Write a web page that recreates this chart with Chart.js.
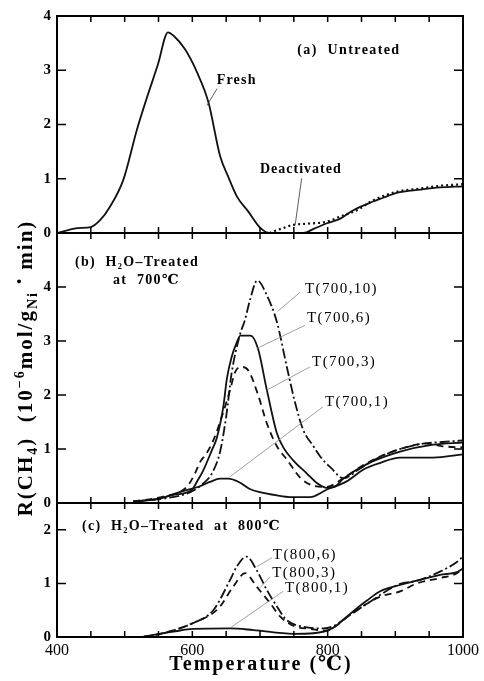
<!DOCTYPE html>
<html><head><meta charset="utf-8">
<script src="https://cdn.jsdelivr.net/npm/chart.js@4.4.1/dist/chart.umd.min.js"></script>
<style>
html,body{margin:0;padding:0;background:#fff;}
.wrap{position:relative;width:484px;height:681px;background:#fff;}
canvas{position:absolute;left:0;top:0;}
</style></head>
<body>
<div class="wrap">
<canvas id="pa" width="484" height="681"></canvas>
<canvas id="pb" width="484" height="681"></canvas>
<canvas id="pc" width="484" height="681"></canvas>
</div>
<script>
// ---------- DATA ----------
const xTickLabelValues = [400, 600, 800, 1000];
const xTickLabels = ['400', '600', '800', '1000'];
const xTickMarks = [450, 500, 550, 600, 650, 700, 750, 800, 850, 900, 950];
const yTicksA = [0, 1, 2, 3, 4];
const yTicksB = [0, 1, 2, 3, 4];
const yTicksC = [0, 1, 2];

// (a) Untreated
const freshT = [400, 415, 430, 450, 464, 478, 498, 518, 533, 549, 564, 572, 589, 607, 624, 641, 653, 666, 683, 700, 714, 764, 780, 799, 818, 838, 867, 882, 902, 937, 966, 1000];
const freshR = [0, 0.05, 0.09, 0.11, 0.24, 0.48, 0.98, 1.9, 2.5, 3.1, 3.7, 3.64, 3.39, 2.96, 2.4, 1.42, 1.04, 0.67, 0.39, 0.1, 0, 0, 0.08, 0.18, 0.26, 0.42, 0.58, 0.65, 0.74, 0.8, 0.84, 0.86];
const deactT = [714, 734, 749, 769, 799, 818, 843, 867, 902, 937, 966, 1000];
const deactR = [0, 0.09, 0.15, 0.17, 0.21, 0.3, 0.42, 0.6, 0.76, 0.82, 0.87, 0.9];

// (b) H2O-treated at 700 C
const t700_1T = [513, 547, 586, 611, 626, 641, 653, 670, 685, 700, 725, 744, 774, 799, 828, 853, 877, 907, 932, 956, 1000];
const t700_1R = [0.03, 0.07, 0.22, 0.31, 0.39, 0.45, 0.45, 0.38, 0.26, 0.2, 0.14, 0.11, 0.11, 0.25, 0.4, 0.62, 0.74, 0.84, 0.84, 0.84, 0.9];
const t700_3T = [513, 557, 592, 604, 611, 621, 631, 641, 656, 663, 673, 683, 698, 710, 725, 740, 760, 779, 799, 823, 858, 907, 946, 970, 1000];
const t700_3R = [0.03, 0.12, 0.3, 0.55, 0.75, 0.92, 1.16, 1.5, 2.1, 2.42, 2.52, 2.45, 1.97, 1.48, 1.05, 0.8, 0.46, 0.32, 0.3, 0.46, 0.74, 1.0, 1.1, 1.05, 1.03];
const t700_6T = [513, 547, 572, 599, 608, 616, 629, 636, 646, 651, 658, 665, 671, 686, 697, 710, 725, 734, 749, 769, 784, 799, 810, 823, 858, 907, 956, 1000];
const t700_6R = [0.03, 0.07, 0.15, 0.24, 0.42, 0.6, 0.98, 1.2, 1.8, 2.3, 2.7, 2.95, 3.1, 3.1, 2.86, 2.1, 1.29, 1.04, 0.79, 0.55, 0.37, 0.28, 0.3, 0.45, 0.72, 0.95, 1.08, 1.12];
const t700_10T = [513, 562, 597, 615, 629, 641, 650, 658, 670, 678, 685, 696, 710, 725, 740, 752, 764, 779, 789, 805, 823, 848, 872, 907, 941, 970, 1000];
const t700_10R = [0.03, 0.09, 0.2, 0.35, 0.55, 0.95, 1.6, 2.4, 3.1, 3.4, 3.75, 4.12, 3.85, 3.35, 2.5, 1.85, 1.35, 1.05, 0.86, 0.65, 0.46, 0.64, 0.82, 1.0, 1.1, 1.13, 1.16];

// (c) H2O-treated at 800 C
const t800_1T = [528, 572, 601, 656, 690, 749, 779, 808, 833, 858, 877, 907, 932, 966, 991, 1000];
const t800_1R = [0.01, 0.1, 0.15, 0.16, 0.13, 0.06, 0.07, 0.17, 0.43, 0.68, 0.85, 0.97, 1.05, 1.16, 1.21, 1.28];
const t800_3T = [528, 557, 601, 631, 641, 661, 678, 695, 715, 730, 749, 774, 799, 808, 833, 858, 877, 907, 932, 966, 991, 1000];
const t800_3R = [0, 0.07, 0.26, 0.45, 0.57, 0.95, 1.19, 0.94, 0.63, 0.38, 0.21, 0.15, 0.12, 0.17, 0.41, 0.62, 0.75, 0.85, 1.0, 1.1, 1.19, 1.3];
const t800_6T = [528, 557, 601, 631, 656, 666, 680, 695, 710, 725, 739, 764, 794, 808, 833, 858, 907, 932, 966, 991, 1000];
const t800_6R = [0, 0.07, 0.26, 0.5, 1.07, 1.32, 1.5, 1.25, 0.88, 0.57, 0.32, 0.19, 0.16, 0.2, 0.41, 0.62, 0.99, 1.05, 1.22, 1.4, 1.5];

// ---------- STYLE / LAYOUT ----------
const SERIF = "'Liberation Serif', 'Times New Roman', 'DejaVu Serif', serif";
Chart.defaults.font.family = SERIF;
Chart.defaults.color = '#000';
const PLOT_LEFT = 57, PLOT_RIGHT = 463, H = 681, W = 484;
const INK = '#111';
const DASH_DOT = [10, 3, 2, 3];
const DASHED = [7, 5];
const DOTTED = [2, 3];

function pts(T, R) { return T.map((t, i) => ({ x: t, y: R[i] })); }
function ds(T, R, dash, w) {
  return { data: pts(T, R), borderColor: INK, borderWidth: w || 1.8, borderDash: dash || [],
    pointRadius: 0, fill: false, cubicInterpolationMode: 'monotone' };
}

function drawSpaced(ctx, text, x, y, font, spacing) {
  ctx.font = font;
  if ('letterSpacing' in ctx) { ctx.letterSpacing = spacing + 'px'; ctx.fillText(text, x, y); ctx.letterSpacing = '0px'; return; }
  let cx = x;
  for (const ch of text) { ctx.fillText(ch, cx, y); cx += ctx.measureText(ch).width + spacing; }
}

function panelPlugin(cfg) {
  return {
    id: 'panel_' + cfg.id,
    afterDatasetsDraw(chart) {
      const ctx = chart.ctx, a = chart.chartArea, x = chart.scales.x, y = chart.scales.y;
      ctx.save();
      ctx.strokeStyle = '#000';
      ctx.lineWidth = 2;
      ctx.strokeRect(a.left, a.top, a.right - a.left, a.bottom - a.top);
      ctx.lineWidth = 1.5;
      ctx.beginPath();
      xTickMarks.forEach(v => {
        const px = x.getPixelForValue(v);
        ctx.moveTo(px, a.top); ctx.lineTo(px, a.top + 6);
        ctx.moveTo(px, a.bottom); ctx.lineTo(px, a.bottom - 6);
      });
      cfg.yTicks.forEach(v => {
        const py = y.getPixelForValue(v);
        ctx.moveTo(a.left, py); ctx.lineTo(a.left + 9, py);
        ctx.moveTo(a.right, py); ctx.lineTo(a.right - 9, py);
      });
      ctx.stroke();
      // leader lines
      cfg.leaders.forEach(l => {
        ctx.beginPath();
        ctx.strokeStyle = l.color || '#888';
        ctx.lineWidth = l.w || 0.8;
        ctx.setLineDash(l.dash || []);
        ctx.moveTo(x.getPixelForValue(l.x1), y.getPixelForValue(l.y1));
        ctx.lineTo(x.getPixelForValue(l.x2), y.getPixelForValue(l.y2));
        ctx.stroke();
      });
      ctx.setLineDash([]);
      // labels
      ctx.fillStyle = '#000';
      ctx.textAlign = 'left';
      ctx.textBaseline = 'middle';
      cfg.texts.forEach(t => {
        drawSpaced(ctx, t.text, x.getPixelForValue(t.x), y.getPixelForValue(t.y), t.font, t.sp);
      });
      if (cfg.after) cfg.after(chart);
      ctx.restore();
    }
  };
}

function makePanel(cfg) {
  return new Chart(document.getElementById(cfg.id), {
    type: 'line',
    data: { datasets: cfg.datasets },
    options: {
      responsive: false, maintainAspectRatio: false, animation: false, events: [],
      layout: { padding: { left: 0, right: W - PLOT_RIGHT, top: cfg.top, bottom: cfg.showX ? 0 : H - cfg.bottom } },
      plugins: { legend: { display: false }, tooltip: { enabled: false } },
      scales: {
        x: {
          type: 'linear', min: 400, max: 1000, display: cfg.showX,
          afterFit(s) { if (cfg.showX) s.height = H - cfg.bottom; },
          afterBuildTicks(s) { s.ticks = xTickLabelValues.map(v => ({ value: v })); },
          grid: { display: false, drawTicks: false }, border: { display: false },
          ticks: { font: { size: 16 }, color: '#000', padding: 4, maxRotation: 0, autoSkip: false,
            callback: (v, i) => xTickLabels[i] }
        },
        y: {
          type: 'linear', min: 0, max: cfg.yMax,
          afterFit(s) { s.width = PLOT_LEFT; },
          afterBuildTicks(s) { s.ticks = cfg.yTicks.map(v => ({ value: v })); },
          grid: { display: false, drawTicks: false }, border: { display: false },
          ticks: { font: { size: 15, weight: 'bold' }, color: '#000', padding: 6 }
        }
      }
    },
    plugins: [panelPlugin(cfg)]
  });
}

const F_BOLD = 'bold 14px ' + SERIF;
const F_T = '15px ' + SERIF;

// panel (a)
makePanel({
  id: 'pa', top: 16, bottom: 233, yMax: 4, yTicks: yTicksA, showX: false,
  datasets: [ds(freshT, freshR), ds(deactT, deactR, DOTTED, 2.2)],
  texts: [
    { text: '(a)  Untreated', x: 755, y: 3.37, font: F_BOLD, sp: 1.4 },
    { text: 'Fresh', x: 636, y: 2.82, font: F_BOLD, sp: 1.2 },
    { text: 'Deactivated', x: 700, y: 1.17, font: F_BOLD, sp: 1 }
  ],
  leaders: [
    { x1: 636.5, y1: 2.66, x2: 621.6, y2: 2.35, color: '#333', w: 0.8 },
    { x1: 761.6, y1: 1.01, x2: 752, y2: 0.15, color: '#333', w: 0.8 }
  ]
});

// panel (b)
makePanel({
  id: 'pb', top: 233, bottom: 503, yMax: 5, yTicks: yTicksB, showX: false,
  datasets: [ds(t700_1T, t700_1R), ds(t700_3T, t700_3R, DASHED), ds(t700_6T, t700_6R), ds(t700_10T, t700_10R, DASH_DOT)],
  texts: [
    { text: '(b)  H₂O–Treated', x: 426.6, y: 4.46, font: F_BOLD, sp: 1.3 },
    { text: 'at  700℃', x: 482.8, y: 4.12, font: F_BOLD, sp: 1.3 },
    { text: 'T(700,10)', x: 766.5, y: 3.97, font: F_T, sp: 1.4 },
    { text: 'T(700,6)', x: 769.5, y: 3.42, font: F_T, sp: 1.4 },
    { text: 'T(700,3)', x: 777, y: 2.61, font: F_T, sp: 1.4 },
    { text: 'T(700,1)', x: 796, y: 1.87, font: F_T, sp: 1.4 }
  ],
  leaders: [
    { x1: 759, y1: 3.9, x2: 726, y2: 3.55 },
    { x1: 766.5, y1: 3.29, x2: 695, y2: 2.86 },
    { x1: 774, y1: 2.52, x2: 710, y2: 2.09 },
    { x1: 793, y1: 1.78, x2: 656, y2: 0.49 }
  ],
  after(chart) {
    // y-axis title, rotated, with sub/superscripts
    const ctx = chart.ctx;
    const parts = [
      { t: 'R(CH', k: 0 }, { t: '4', k: 1 }, { t: ')  (10', k: 0 }, { t: '−6', k: 2 },
      { t: 'mol/g', k: 0 }, { t: 'Ni', k: 1 }, { t: ' ', k: 0 }, { t: '•', k: 2 }, { t: ' min)', k: 0 }
    ];
    const big = 'bold 21px ' + SERIF, small = 'bold 14px ' + SERIF, sp = 2;
    const hasLS = 'letterSpacing' in ctx;
    if (hasLS) ctx.letterSpacing = sp + 'px';
    let total = 0;
    parts.forEach(p => { ctx.font = p.k ? small : big; p.w = ctx.measureText(p.t).width + (hasLS ? 0 : sp * p.t.length); total += p.w; });
    ctx.translate(32, 368);
    ctx.rotate(-Math.PI / 2);
    ctx.textAlign = 'left';
    ctx.textBaseline = 'alphabetic';
    let cx = -total / 2;
    parts.forEach(p => {
      ctx.font = p.k ? small : big;
      const dy = p.k === 1 ? 5 : (p.k === 2 ? -8 : 0);
      ctx.fillText(p.t, cx, dy);
      cx += p.w;
    });
    if (hasLS) ctx.letterSpacing = '0px';
  }
});

// panel (c)
makePanel({
  id: 'pc', top: 503, bottom: 637, yMax: 2.5, yTicks: yTicksC, showX: true,
  datasets: [ds(t800_1T, t800_1R), ds(t800_3T, t800_3R, DASHED), ds(t800_6T, t800_6R, DASH_DOT)],
  texts: [
    { text: '(c)  H₂O–Treated  at  800℃', x: 437, y: 2.06, font: F_BOLD, sp: 1.3 },
    { text: 'T(800,6)', x: 719, y: 1.53, font: F_T, sp: 1.4 },
    { text: 'T(800,3)', x: 718, y: 1.2, font: F_T, sp: 1.4 },
    { text: 'T(800,1)', x: 737, y: 0.92, font: F_T, sp: 1.4 }
  ],
  leaders: [
    { x1: 717.8, y1: 1.48, x2: 695, y2: 1.31 },
    { x1: 715, y1: 1.12, x2: 700, y2: 0.92 },
    { x1: 734, y1: 0.85, x2: 656, y2: 0.17 }
  ],
  after(chart) {
    const ctx = chart.ctx, a = chart.chartArea;
    ctx.textAlign = 'center';
    ctx.textBaseline = 'middle';
    ctx.font = 'bold 20px ' + SERIF;
    if ('letterSpacing' in ctx) ctx.letterSpacing = '2px';
    ctx.fillText('Temperature (℃)', (a.left + a.right) / 2 + 1, 665);
    if ('letterSpacing' in ctx) ctx.letterSpacing = '0px';
  }
});
</script>
</body></html>
